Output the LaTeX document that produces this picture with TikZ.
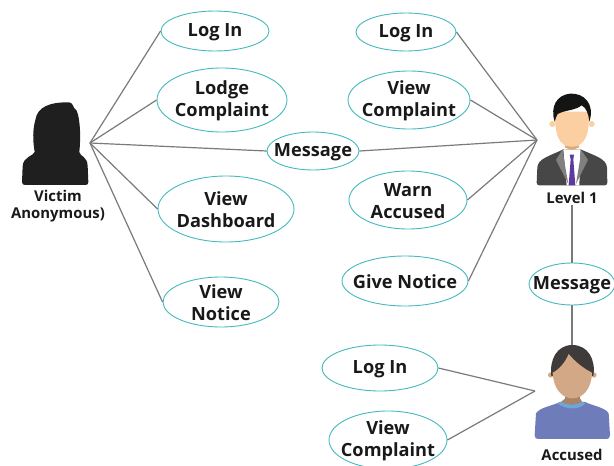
\documentclass[tikz,border=0pt]{standalone}
\usepackage{fontspec}
\setmainfont{Open Sans}
\usetikzlibrary{shapes.geometric}
\definecolor{teal1}{HTML}{45B9BD}
\definecolor{wire}{HTML}{7A7A7A}
\definecolor{skinA}{HTML}{FBCFA2}
\definecolor{skinB}{HTML}{D2A886}
\definecolor{neckB}{HTML}{A98468}
\definecolor{shirtB}{HTML}{6E7DB9}
\definecolor{collarB}{HTML}{6FA5D8}
\definecolor{hairB}{HTML}{3F3B3A}
\definecolor{tie}{HTML}{5E3A9E}
\tikzset{
  uc/.style n args={3}{ellipse,draw=teal1,line width=.9pt,fill=white,inner sep=0pt,
     minimum width=#1pt,minimum height=#2pt,
     label={[txt]center:#3}},
  txt/.style={font=\bfseries\fontsize{18.2}{22}\selectfont,align=center,text=black!90,inner sep=0pt,yshift=-1pt},
  cap1/.style={font=\bfseries\fontsize{14.9}{19}\selectfont,align=center,text=black!90,inner sep=0pt},
  wireline/.style={draw=wire,line width=1.2pt},
}
\begin{document}
\begin{tikzpicture}[x=1pt,y=-1pt]
\useasboundingbox (0,0) rectangle (614,466);
% hubs
\coordinate (hv) at (90,143);
\coordinate (hl) at (537,140);
\coordinate (ht) at (572,205);
\coordinate (hb) at (572,345);
\coordinate (ha) at (535,391);
% use cases
\node[uc={108}{40}{Log In}] (a1) at (215,31) {};
\node[uc={130}{64}{Lodge\\Complaint}] (a2) at (222,100) {};
\node[uc={92}{38}{Message}] (m1) at (313,151) {};
\node[uc={136}{66}{View\\Dashboard}] (a3) at (226,209) {};
\node[uc={116}{50}{View\\Notice}] (a4) at (221,302) {};
\node[uc={100}{38}{Log In}] (b1) at (406,32) {};
\node[uc={122}{58}{View\\Complaint}] (b2) at (409,100) {};
\node[uc={118}{58}{Warn\\Accused}] (b3) at (408,200) {};
\node[uc={126}{50}{Give Notice}] (b4) at (405,281) {};
\node[uc={86}{42}{Message}] (m2) at (572,284) {};
\node[uc={116}{46}{Log In}] (c1) at (380,368) {};
\node[uc={118}{58}{View\\Complaint}] (c2) at (388,440) {};
% connectors
\foreach \n in {a1,a2,m1,a3,a4} \draw[wireline] (hv) -- (\n.west);
\foreach \n in {b1,b2,b3,b4} \draw[wireline] (hl) -- (\n.east);
\draw[wireline] (hl) -- (m1.east);
\draw[wireline] (ht) -- (m2.north -| ht);
\draw[wireline] (m2.south -| hb) -- (hb);
\foreach \n in {c1,c2} \draw[wireline] (ha) -- (\n.east);
% victim
\begin{scope}[shift={(0,90)},x=.3333pt,y=-.3333pt]
\fill[black!88] (106,90) .. controls (112,50) and (150,36) .. (208,37)
  .. controls (222,40) and (216,52) .. (230,62)
  .. controls (242,90) and (242,150) .. (238,186)
  .. controls (240,200) and (262,198) .. (263,228)
  -- (265,276) .. controls (265,283) and (262,285) .. (256,285)
  -- (76,285) .. controls (70,285) and (66,283) .. (66,276)
  -- (68,228) .. controls (70,200) and (100,198) .. (104,186)
  .. controls (98,150) and (98,120) .. (106,90) -- cycle;
\end{scope}
% level 1
\begin{scope}[shift={(520,80)},x=.3333pt,y=-.3333pt]
\fill[black!72] (52,262) .. controls (54,235) and (90,228) .. (130,208)
  -- (182,208) .. controls (225,228) and (258,235) .. (261,262)
  -- (262,308) .. controls (262,314) and (258,316) .. (254,316)
  -- (58,316) .. controls (54,316) and (50,314) .. (50,308) -- cycle;
\fill[white] (130,208) -- (182,208) -- (178,316) -- (140,316) -- cycle;
\fill[black!50] (128,208) -- (108,240) -- (145,312) -- (132,240) -- cycle;
\fill[black!50] (182,208) -- (204,240) -- (168,312) -- (180,240) -- cycle;
\fill[skinA!80!brown] (135,185) rectangle (176,205);
\fill[skinA!55!brown] (133,198) .. controls (145,214) and (166,214) .. (178,198) -- cycle;
\fill[tie] (149,224) -- (162,224) -- (160,238) -- (166,316) -- (146,316) -- (152,238) -- cycle;
\fill[skinA] (97,132) circle[radius=9];
\fill[skinA] (215,132) circle[radius=9];
\fill[skinA] (106,95) .. controls (102,170) and (120,200) .. (155,200)
  .. controls (192,200) and (210,170) .. (206,95) -- cycle;
\fill[black!92] (104,125) .. controls (90,80) and (110,45) .. (150,41)
  .. controls (190,38) and (226,70) .. (208,125)
  .. controls (205,100) and (200,85) .. (185,76)
  .. controls (165,92) and (135,90) .. (113,102) .. controls (109,108) and (107,115) .. (104,125) -- cycle;
\end{scope}
% accused
\begin{scope}[shift={(520,330)},x=.3333pt,y=-.3333pt]
\fill[skinB] (92,135) circle[radius=8];
\fill[skinB] (222,135) circle[radius=8];
\fill[hairB] (157,45) .. controls (110,45) and (88,90) .. (94,138) -- (220,138)
  .. controls (228,90) and (205,45) .. (157,45) -- cycle;
\fill[neckB] (136,190) rectangle (180,222);
\fill[shirtB] (48,250) .. controls (60,232) and (95,228) .. (120,216)
  -- (195,216) .. controls (220,228) and (255,232) .. (266,250)
  -- (270,315) .. controls (270,324) and (266,327) .. (260,327)
  -- (54,327) .. controls (48,327) and (44,324) .. (44,315) -- cycle;
\fill[collarB] (112,220) .. controls (135,240) and (180,240) .. (196,220) -- (186,215)
  .. controls (170,226) and (140,226) .. (124,215) -- cycle;
\fill[neckB] (124,215) .. controls (140,226) and (170,226) .. (186,215) -- (180,205) -- (136,205) -- cycle;
\fill[skinB] (146,72) .. controls (135,98) and (118,118) .. (98,128)
  .. controls (100,175) and (125,205) .. (157,205)
  .. controls (190,205) and (215,175) .. (216,128)
  .. controls (190,115) and (165,95) .. (146,72) -- cycle;
\end{scope}
% captions
\node[cap1] (cv) at (58,206.5) {Victim\hspace{6pt}\\[-2pt]Anonymous)};
\node[cap1] (cl) at (572,197.5) {Level 1};
\node[cap1] (ca) at (572,455) {Accused};
\end{tikzpicture}
\end{document}
